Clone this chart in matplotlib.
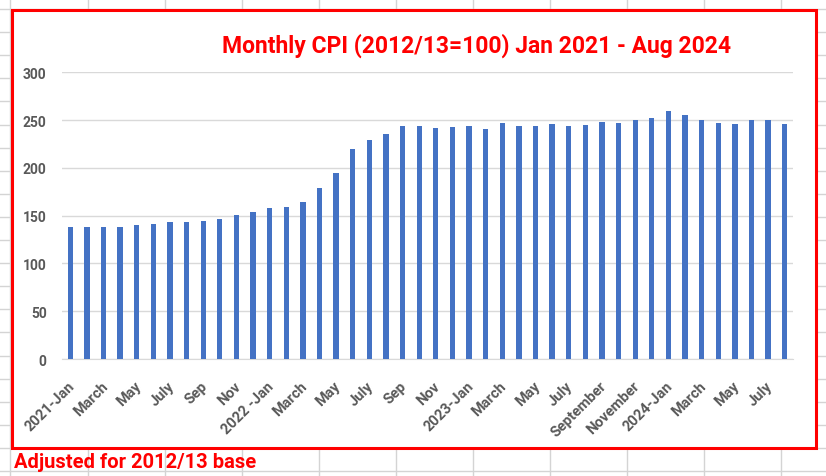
import matplotlib
matplotlib.use('Agg')
import matplotlib.pyplot as plt
import matplotlib.transforms as mtransforms
from matplotlib.lines import Line2D
from matplotlib.patches import Rectangle
import numpy as np

plt.rcParams['font.family'] = ['Roboto', 'DejaVu Sans']

# monthly CPI, Jan 2021 .. Aug 2024 (2012/13 = 100)
cpi = [138.3, 138.3, 138.3, 138.3, 139.7, 141.5, 142.9, 142.9, 143.9, 146.0,
       150.2, 154.3, 157.5, 159.5, 164.8, 179.4, 195.0, 220.0, 229.4, 235.7,
       244.0, 244.0, 241.9, 243.0, 244.0, 240.9, 247.1, 244.0, 244.0, 246.1,
       244.0, 245.0, 248.2, 247.1, 250.3, 252.4, 259.6, 255.5, 250.3, 247.1,
       246.1, 250.3, 250.3, 246.1]
etiquetas = ['2021-Jan', 'March', 'May', 'July', 'Sep', 'Nov',
             '2022 -Jan', 'March', 'May', 'July', 'Sep', 'Nov',
             '2023-Jan', 'March', 'May', 'July', 'September', 'November',
             '2024-Jan', 'March', 'May', 'July']
titulo = 'Monthly CPI (2012/13=100) Jan 2021 - Aug 2024'
nota = 'Adjusted for 2012/13 base'

W, H = 826, 477
fig = plt.figure(figsize=(W / 100, H / 100), dpi=100)
fig.patch.set_facecolor('white')

def px(x, y):
    return x / W, 1 - y / H

# hoja de calculo de fondo
for xc in [10] + [87.7 + 77 * k for k in range(10)]:
    fig.add_artist(Line2D([xc / W] * 2, [0, 1], color='#d4d4d4', lw=1.0, zorder=0))
for k in range(21):
    yr = 10 + 23.1 * k
    fig.add_artist(Line2D([0, 1], [1 - yr / H] * 2, color='#d4d4d4', lw=1.0, zorder=0))

# area del grafico con borde rojo
x0, y0 = px(12, 448.5)
x1, y1 = px(816, 10.5)
fig.add_artist(Rectangle((x0, y0), x1 - x0, y1 - y0, transform=fig.transFigure,
                         facecolor='white', edgecolor='#ff0000', lw=2.2, zorder=1))

ax = fig.add_axes([62 / W, 1 - 360 / H, 731 / W, 286.7 / H], zorder=2)
ax.patch.set_alpha(0)
x = np.arange(len(cpi))
ax.bar(x, cpi, width=0.32, color='#4472c4', zorder=3)
ax.set_xlim(-0.5, len(cpi) - 0.5)
ax.set_ylim(0, 300)
ax.set_yticks(range(0, 301, 50))
ax.grid(axis='y', color='#d9d9d9', lw=1.0, zorder=0)
for s in ax.spines.values():
    s.set_visible(False)
ax.spines['bottom'].set_visible(True)
ax.spines['bottom'].set_color('#d9d9d9')
ax.tick_params(axis='both', length=0, labelsize=10, labelcolor='#595959')
ax.tick_params(axis='x', labelsize=10.5)
ax.tick_params(axis='y', pad=11)
ax.set_xticks(x[::2])
ax.set_xticklabels(etiquetas, rotation=45, ha='right', va='top', fontweight='bold')
ax.tick_params(axis='x', pad=14)
desplaza = mtransforms.ScaledTranslation(7 / 100, 0, fig.dpi_scale_trans)
for lab in ax.get_xticklabels():
    lab.set_transform(lab.get_transform() + desplaza)
for lab in ax.get_yticklabels():
    lab.set_fontweight('bold')

tx, ty = px(476, 46)
fig.text(tx, ty, titulo, ha='center', va='center', color='#ff0000',
         fontsize=16.5, fontweight='bold', zorder=5)
sx, sy = px(14, 463)
fig.text(sx, sy, nota, ha='left', va='center', color='#ff0000',
         fontsize=14.5, fontweight='bold', zorder=5)

plt.savefig('out.png', dpi=100)
